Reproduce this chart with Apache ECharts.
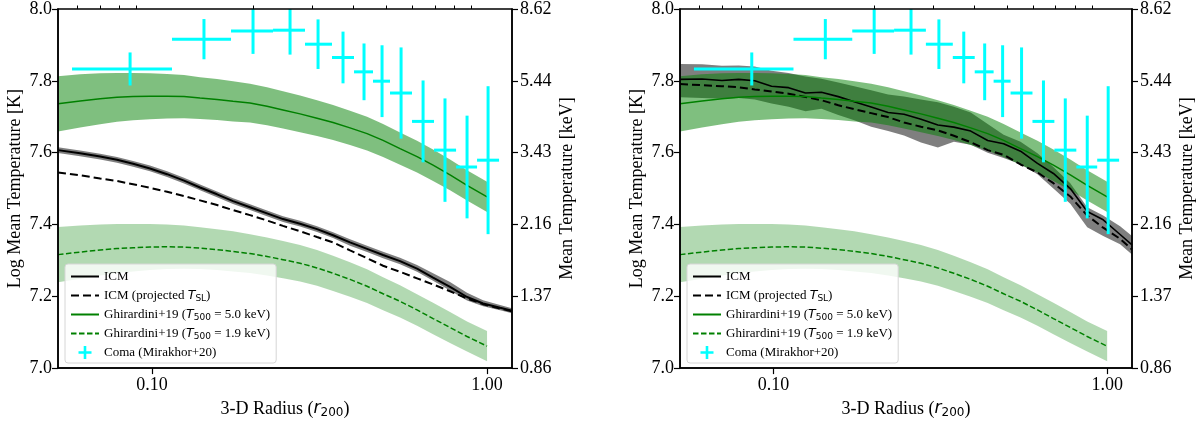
<!DOCTYPE html>
<html><head><meta charset="utf-8">
<script src="https://cdn.jsdelivr.net/npm/echarts@6/dist/echarts.min.js"></script>
<style>html,body{margin:0;padding:0;background:#fff}#c{width:1200px;height:424px}</style>
</head><body><div id="c"></div>
<script>
// ---------- axis limits & ticks ----------
const xLimits = [0.0524, 1.187];
const yLimits = [7.0, 8.0];
const xMajorTicks = [0.1, 1.0];
const xTickLabels = ['0.10', '1.00'];
const xMinorTicks = [0.06, 0.07, 0.08, 0.09, 0.2, 0.3, 0.4, 0.5, 0.6, 0.7, 0.8, 0.9];
const yTickLabels = ['7.0', '7.2', '7.4', '7.6', '7.8', '8.0'];
const keVTickLabels = ['0.86', '1.37', '2.16', '3.43', '5.44', '8.62'];

// ---------- ICM profiles (radius in r200, log T) ----------
const radiusICM = [0.0524, 0.0610, 0.0700, 0.0786, 0.0878, 0.0986, 0.1109, 0.1246, 0.1391, 0.1563, 0.1745, 0.1961, 0.2204, 0.2460, 0.2766, 0.3108, 0.3470, 0.3899, 0.4383, 0.4893, 0.5499, 0.6180, 0.6900, 0.7753, 0.8714, 0.9730, 1.0935, 1.187];
// left panel
const icmLeft        = [7.607, 7.598, 7.589, 7.580, 7.569, 7.556, 7.540, 7.522, 7.503, 7.484, 7.465, 7.448, 7.431, 7.415, 7.402, 7.387, 7.370, 7.350, 7.332, 7.315, 7.298, 7.277, 7.252, 7.226, 7.198, 7.180, 7.168, 7.160];
const icmLeftUpper   = [7.615, 7.606, 7.597, 7.588, 7.577, 7.564, 7.548, 7.530, 7.511, 7.492, 7.473, 7.456, 7.439, 7.423, 7.410, 7.395, 7.378, 7.359, 7.341, 7.324, 7.307, 7.287, 7.264, 7.240, 7.210, 7.189, 7.176, 7.167];
const icmLeftLower   = [7.599, 7.590, 7.581, 7.572, 7.561, 7.548, 7.532, 7.514, 7.495, 7.476, 7.457, 7.440, 7.423, 7.407, 7.394, 7.379, 7.362, 7.341, 7.323, 7.306, 7.289, 7.268, 7.243, 7.216, 7.188, 7.172, 7.161, 7.153];
const icmLeftProj    = [7.545, 7.537, 7.528, 7.521, 7.512, 7.502, 7.491, 7.479, 7.467, 7.454, 7.440, 7.426, 7.411, 7.396, 7.381, 7.365, 7.350, 7.328, 7.306, 7.285, 7.268, 7.250, 7.233, 7.214, 7.194, 7.178, 7.166, 7.158];
// right panel
const icmRight       = [7.804, 7.805, 7.801, 7.804, 7.800, 7.785, 7.781, 7.766, 7.768, 7.756, 7.742, 7.727, 7.712, 7.707, 7.693, 7.677, 7.671, 7.660, 7.634, 7.625, 7.604, 7.570, 7.542, 7.500, 7.436, 7.413, 7.372, 7.343];
const icmRightUpper  = [7.847, 7.846, 7.842, 7.843, 7.840, 7.828, 7.822, 7.812, 7.806, 7.795, 7.785, 7.774, 7.762, 7.756, 7.748, 7.740, 7.728, 7.712, 7.680, 7.650, 7.630, 7.598, 7.560, 7.515, 7.448, 7.425, 7.395, 7.368];
const icmRightLower  = [7.754, 7.752, 7.750, 7.752, 7.748, 7.737, 7.728, 7.715, 7.722, 7.705, 7.690, 7.672, 7.660, 7.648, 7.628, 7.614, 7.630, 7.622, 7.600, 7.585, 7.568, 7.540, 7.500, 7.458, 7.392, 7.368, 7.345, 7.316];
const icmRightProj   = [7.791, 7.788, 7.785, 7.782, 7.776, 7.770, 7.764, 7.755, 7.746, 7.732, 7.721, 7.710, 7.699, 7.684, 7.672, 7.662, 7.647, 7.629, 7.607, 7.594, 7.567, 7.545, 7.515, 7.478, 7.425, 7.391, 7.360, 7.330];

// ---------- Ghirardini+19 model ----------
const radiusModel = [0.0524, 0.0610, 0.0700, 0.0786, 0.0878, 0.0986, 0.1109, 0.1246, 0.1391, 0.1563, 0.1745, 0.1961, 0.2204, 0.2460, 0.2766, 0.3108, 0.3470, 0.3899, 0.4383, 0.4893, 0.5499, 0.6180, 0.6900, 0.7753, 0.8714, 1.0];
const g19T50      = [7.736, 7.744, 7.750, 7.754, 7.756, 7.757, 7.757, 7.756, 7.752, 7.748, 7.743, 7.738, 7.729, 7.719, 7.708, 7.696, 7.684, 7.669, 7.653, 7.634, 7.611, 7.589, 7.565, 7.538, 7.509, 7.477];
const g19T50Upper = [7.813, 7.818, 7.821, 7.822, 7.822, 7.821, 7.819, 7.816, 7.810, 7.805, 7.799, 7.792, 7.782, 7.771, 7.759, 7.746, 7.733, 7.717, 7.700, 7.680, 7.656, 7.633, 7.609, 7.581, 7.551, 7.519];
const g19T50Lower = [7.659, 7.670, 7.679, 7.686, 7.690, 7.693, 7.695, 7.696, 7.694, 7.691, 7.687, 7.684, 7.676, 7.667, 7.657, 7.646, 7.635, 7.621, 7.606, 7.588, 7.566, 7.545, 7.521, 7.495, 7.467, 7.435];
const g19T19      = [7.316, 7.323, 7.329, 7.333, 7.335, 7.337, 7.338, 7.337, 7.334, 7.330, 7.325, 7.319, 7.311, 7.302, 7.292, 7.279, 7.264, 7.247, 7.228, 7.207, 7.186, 7.162, 7.138, 7.113, 7.088, 7.061];
const g19T19Upper = [7.393, 7.397, 7.400, 7.401, 7.401, 7.401, 7.400, 7.397, 7.392, 7.387, 7.381, 7.373, 7.364, 7.354, 7.343, 7.329, 7.313, 7.295, 7.275, 7.253, 7.231, 7.206, 7.182, 7.156, 7.130, 7.103];
const g19T19Lower = [7.239, 7.249, 7.258, 7.265, 7.269, 7.273, 7.276, 7.277, 7.276, 7.273, 7.269, 7.265, 7.258, 7.250, 7.241, 7.229, 7.215, 7.199, 7.181, 7.161, 7.141, 7.118, 7.094, 7.070, 7.046, 7.019];

// ---------- Coma (Mirakhor+20) ----------
const comaR    = [0.0860, 0.1429, 0.2002, 0.2582, 0.3130, 0.3716, 0.4293, 0.4859, 0.5538, 0.6442, 0.7489, 0.8715, 1.007];
const comaRlo  = [0.0577, 0.1147, 0.1721, 0.2297, 0.2861, 0.3445, 0.4008, 0.4566, 0.5133, 0.5971, 0.6946, 0.8082, 0.9335];
const comaRhi  = [0.1147, 0.1721, 0.2297, 0.2861, 0.3445, 0.4008, 0.4566, 0.5133, 0.5971, 0.6946, 0.8082, 0.9335, 1.086];
const comaT    = [7.833, 7.916, 7.939, 7.941, 7.902, 7.865, 7.825, 7.799, 7.766, 7.687, 7.607, 7.560, 7.579];
const comaTerr = [0.046, 0.056, 0.064, 0.068, 0.069, 0.072, 0.079, 0.100, 0.127, 0.114, 0.144, 0.143, 0.206];

// ---------- legend ----------
const legendNames = ['ICM', 'ICM (projected T_SL)', 'Ghirardini+19 (T500 = 5.0 keV)', 'Ghirardini+19 (T500 = 1.9 keV)', 'Coma (Mirakhor+20)'];
const legendTexts = ['ICM', 'ICM (projected {it|T}{sub|SL})', 'Ghirardini+19 ({it|T}{sub|500} = 5.0 keV)', 'Ghirardini+19 ({it|T}{sub|500} = 1.9 keV)', 'Coma (Mirakhor+20)'];

// ---------- style ----------
const SERIF = 'Liberation Serif';
const MATH = 'DejaVu Sans';
const FS = 18;
const grids = [
  {left: 58, top: 8, width: 454, height: 361},
  {left: 680, top: 8, width: 452, height: 361}
];
const panels = [
  {solid: icmLeft, upper: icmLeftUpper, lower: icmLeftLower, proj: icmLeftProj, solidWidth: 2},
  {solid: icmRight, upper: icmRightUpper, lower: icmRightLower, proj: icmRightProj, solidWidth: 1.6}
];

function nearestLabel(v, ticks, labels) {
  let best = -1, bd = 1e9;
  ticks.forEach((t, i) => { const d = Math.abs(t - v); if (d < bd) { bd = d; best = i; } });
  return bd < 1e-6 * Math.max(1, Math.abs(v)) + 1e-9 ? labels[best] : '';
}

const xAxes = [], yAxes = [], series = [], legends = [];
grids.forEach((g, gi) => {
  xAxes[gi] = {
    type: 'log', logBase: 10, gridIndex: gi, min: xLimits[0], max: xLimits[1], z: 5,
    name: '3-D Radius ({it|r}{sub|200})', nameLocation: 'middle', nameGap: 27,
    nameTextStyle: {fontFamily: SERIF, fontSize: FS, color: '#000', lineHeight: 20,
      rich: {it: {fontFamily: MATH, fontStyle: 'italic', fontSize: 17, color: '#000', lineHeight: 20},
             sub: {fontFamily: MATH, fontSize: 12, color: '#000', lineHeight: 12, verticalAlign: 'bottom'}}},
    axisLine: {show: true, onZero: false, lineStyle: {color: '#000', width: 1.5}},
    axisTick: {show: true, inside: false, length: 6, customValues: xMajorTicks, lineStyle: {color: '#000', width: 1.2}},
    axisLabel: {show: true, customValues: xMajorTicks, margin: 8, fontFamily: SERIF, fontSize: FS, color: '#000',
      formatter: v => nearestLabel(v, xMajorTicks, xTickLabels)},
    splitLine: {show: false}
  };
  xAxes[2 + gi] = {
    type: 'log', logBase: 10, gridIndex: gi, min: xLimits[0], max: xLimits[1], z: 5,
    axisLine: {show: false},
    axisTick: {show: true, inside: false, length: 3.5, customValues: xMinorTicks, lineStyle: {color: '#000', width: 1}},
    axisLabel: {show: false},
    splitLine: {show: false}
  };
  yAxes[gi] = {
    type: 'value', gridIndex: gi, min: yLimits[0], max: yLimits[1], interval: 0.2, position: 'left', z: 5,
    name: 'Log Mean Temperature [K]', nameLocation: 'middle', nameGap: 34,
    nameTextStyle: {fontFamily: SERIF, fontSize: FS, color: '#000'},
    axisLine: {show: true, lineStyle: {color: '#000', width: 1.5}},
    axisTick: {show: true, inside: false, length: 6, lineStyle: {color: '#000', width: 1.2}},
    axisLabel: {margin: 6, fontFamily: SERIF, fontSize: FS, color: '#000', formatter: (v, i) => yTickLabels[i]},
    splitLine: {show: false}
  };
  yAxes[2 + gi] = {
    type: 'value', gridIndex: gi, min: yLimits[0], max: yLimits[1], interval: 0.2, position: 'right', z: 5,
    name: 'Mean Temperature [keV]', nameLocation: 'middle', nameGap: 46,
    nameTextStyle: {fontFamily: SERIF, fontSize: FS, color: '#000'},
    axisLine: {show: true, lineStyle: {color: '#000', width: 1.5}},
    axisTick: {show: true, inside: false, length: 6, lineStyle: {color: '#000', width: 1.2}},
    axisLabel: {margin: 8, fontFamily: SERIF, fontSize: FS, color: '#000', formatter: (v, i) => keVTickLabels[i]},
    splitLine: {show: false}
  };

  const band = (xs, lo, hi, color, z) => ({
    type: 'custom', xAxisIndex: gi, yAxisIndex: gi, clip: true, silent: true, z,
    data: xs.map((x, i) => [x, lo[i], hi[i]]),
    encode: {x: 0, y: [1, 2]},
    renderItem(params, api) {
      if (params.dataIndexInside !== 0) return null;
      const n = params.dataInsideLength, pts = [];
      for (let i = 0; i < n; i++) pts.push(api.coord([api.value(0, i), api.value(2, i)]));
      for (let i = n - 1; i >= 0; i--) pts.push(api.coord([api.value(0, i), api.value(1, i)]));
      return {type: 'polygon', shape: {points: pts}, style: {fill: color}};
    }
  });
  const line = (name, ys, xs, color, width, type, z) => ({
    type: 'line', name, xAxisIndex: gi, yAxisIndex: gi, symbol: 'none', clip: true, z,
    data: xs.map((x, i) => [x, ys[i]]),
    lineStyle: {color, width, type, cap: 'butt'}, itemStyle: {color}
  });
  const p = panels[gi];
  series.push(band(radiusICM, p.lower, p.upper, 'rgba(0,0,0,0.5)', 1));
  series.push(band(radiusModel, g19T19Lower, g19T19Upper, 'rgba(0,128,0,0.3)', 1.5));
  series.push(band(radiusModel, g19T50Lower, g19T50Upper, 'rgba(0,128,0,0.5)', 1.5));
  series.push(line(legendNames[0], p.solid, radiusICM, '#000', p.solidWidth, 'solid', 3));
  series.push(line(legendNames[1], p.proj, radiusICM, '#000', 2, [8, 4], 3));
  series.push(line(legendNames[2], g19T50, radiusModel, '#008000', 1.5, 'solid', 3));
  series.push(line(legendNames[3], g19T19, radiusModel, '#008000', 1.5, [5.5, 2.5], 3));
  series.push({
    type: 'custom', name: legendNames[4], xAxisIndex: gi, yAxisIndex: gi, clip: true, z: 4,
    itemStyle: {color: '#00ffff'},
    data: comaR.map((r, i) => [r, comaT[i], comaRlo[i], comaRhi[i], comaTerr[i]]),
    encode: {x: [0, 2, 3], y: 1},
    renderItem(params, api) {
      const x = api.value(0), y = api.value(1), xl = api.value(2), xh = api.value(3), e = api.value(4);
      const L = api.coord([xl, y]), R = api.coord([xh, y]), T = api.coord([x, y + e]), B = api.coord([x, y - e]);
      const st = {stroke: '#00ffff', lineWidth: 3};
      return {type: 'group', children: [
        {type: 'line', shape: {x1: L[0], y1: L[1], x2: R[0], y2: R[1]}, style: st},
        {type: 'line', shape: {x1: T[0], y1: T[1], x2: B[0], y2: B[1]}, style: st}
      ]};
    }
  });

  legends.push({
    orient: 'vertical', left: g.left + 7, top: 264, z: 10,
    itemWidth: 28, itemHeight: 13, itemGap: 4,
    padding: [5, 6, 3, 5],
    backgroundColor: 'rgba(255,255,255,0.8)', borderColor: '#d6d6d6', borderWidth: 1, borderRadius: 3,
    selectedMode: false,
    data: legendNames.map((n, i) => i === 4
      ? {name: n, icon: 'path://M4,0H6V4H10V6H6V10H4V6H0V4H4Z', itemStyle: {color: '#00ffff'}}
      : {name: n, itemStyle: {color: 'rgba(0,0,0,0)', borderColor: 'rgba(0,0,0,0)', borderWidth: 0}}),
    formatter: n => legendTexts[legendNames.indexOf(n)],
    textStyle: {fontFamily: SERIF, fontSize: 13, color: '#000', lineHeight: 15,
      rich: {it: {fontFamily: MATH, fontStyle: 'italic', fontSize: 12.5, color: '#000', lineHeight: 15},
             sub: {fontFamily: MATH, fontSize: 9, color: '#000', lineHeight: 9, verticalAlign: 'bottom'}}}
  });
});

const chart = echarts.init(document.getElementById('c'), null, {renderer: 'canvas'});
chart.setOption({
  animation: false,
  backgroundColor: '#fff',
  grid: grids.map(g => Object.assign({show: true, borderColor: '#000', borderWidth: 1.5, backgroundColor: 'transparent', z: 5}, g)),
  xAxis: xAxes,
  yAxis: yAxes,
  legend: legends,
  series
});
</script></body></html>
